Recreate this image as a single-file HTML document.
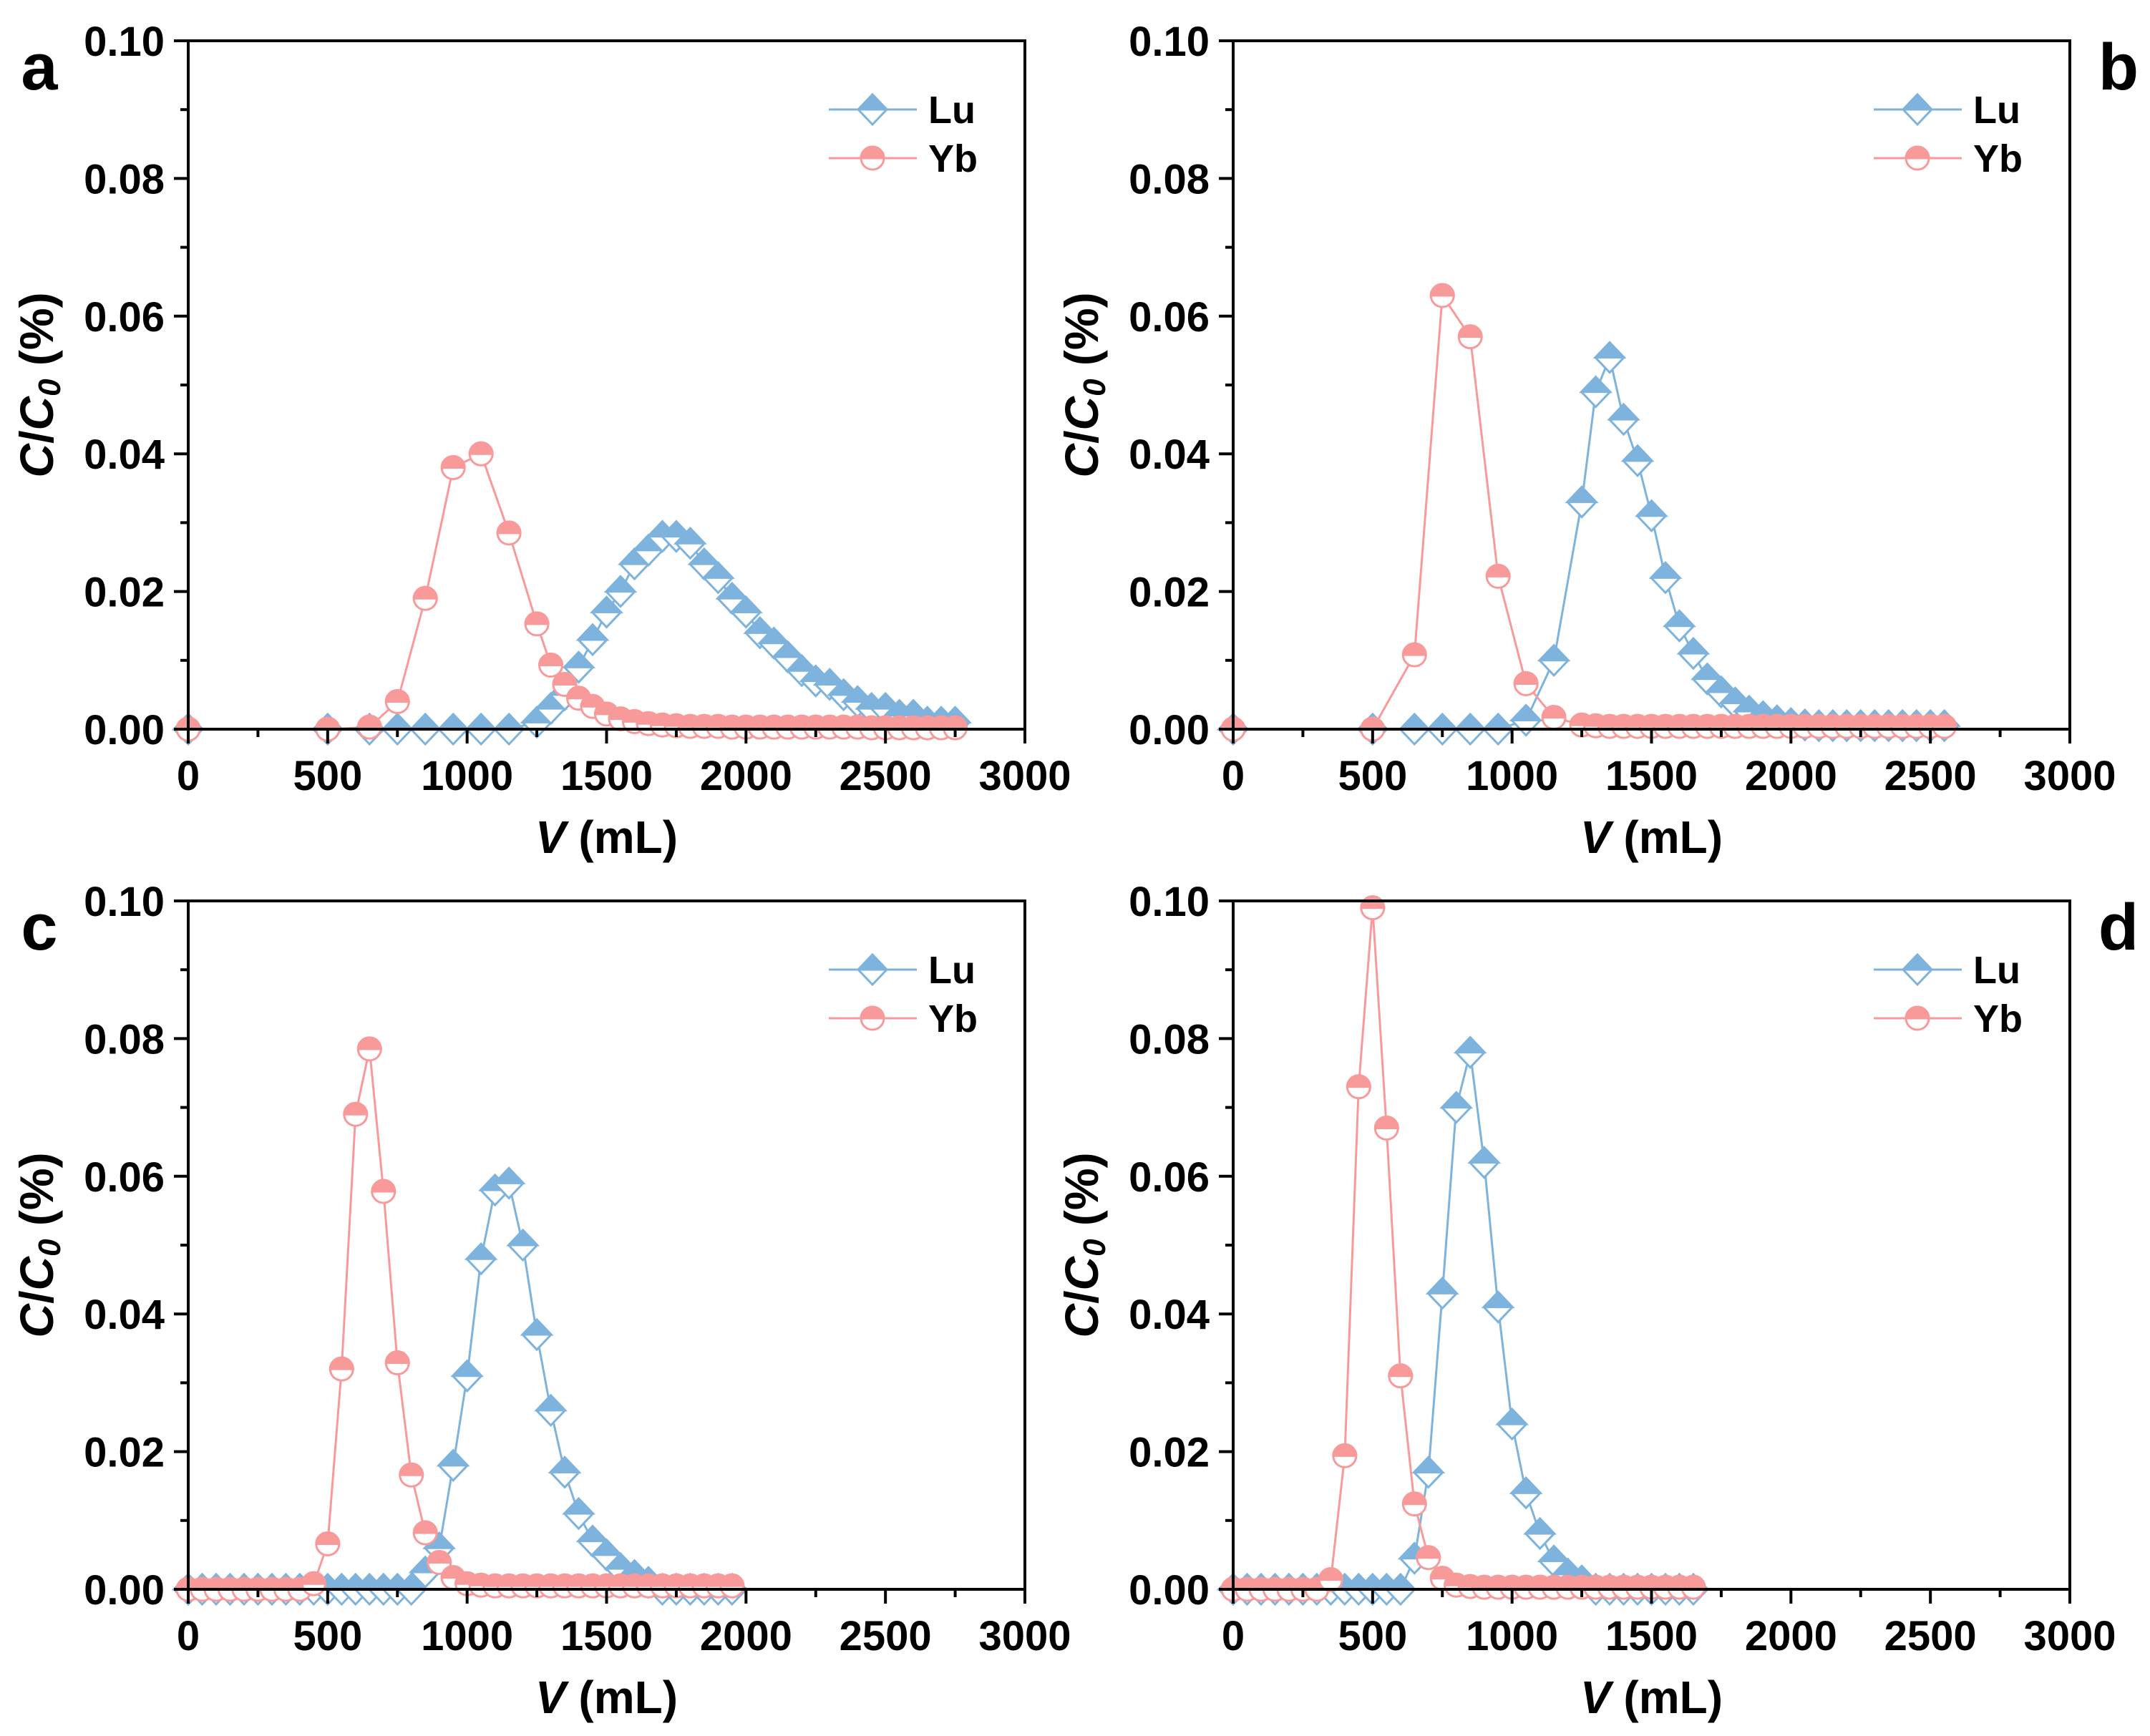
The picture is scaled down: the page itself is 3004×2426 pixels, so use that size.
<!DOCTYPE html>
<html><head><meta charset="utf-8"><style>
html,body{margin:0;padding:0;background:#fff}
svg{display:block}
text{font-family:"Liberation Sans",Arial,sans-serif;font-weight:bold;fill:#000}
</style></head><body>
<svg id="fig" width="3004" height="2426" viewBox="0 0 3004 2426" xmlns="http://www.w3.org/2000/svg"></svg>
<script>
// ---- data ----
const xTicks=[0,500,1000,1500,2000,2500,3000];
const yTicks=[0,0.02,0.04,0.06,0.08,0.10];
const yTickLabels=["0.00","0.02","0.04","0.06","0.08","0.10"];
const panelLetters=["a","b","c","d"];
const seriesNames=["Lu","Yb"];

const aLuV=[0,500,650,750,850,950,1050,1150,1250,1300,1350,1400,1450,1500,1550,1600,1650,1700,1750,1800,1850,1900,1950,2000,2050,2100,2150,2200,2250,2300,2350,2400,2450,2500,2550,2600,2650,2700,2750];
const aLuC=[0,0,0,0,0,0,0,0,0.001,0.003,0.005,0.009,0.013,0.017,0.020,0.024,0.026,0.028,0.028,0.027,0.024,0.022,0.019,0.017,0.014,0.0125,0.0105,0.0085,0.007,0.0065,0.005,0.004,0.003,0.003,0.002,0.002,0.001,0.001,0.001];
const aYbV=aLuV;
const aYbC=[0,0,0.0003,0.004,0.019,0.038,0.040,0.0285,0.0153,0.0093,0.0065,0.0045,0.0033,0.0022,0.0015,0.0011,0.0008,0.0006,0.0005,0.0004,0.0004,0.0004,0.0003,0.0003,0.0003,0.0003,0.0003,0.0003,0.0003,0.0003,0.0003,0.0003,0.0002,0.0002,0.0002,0.0002,0.0002,0.0002,0.0002];

const bLuV=[0,500,650,750,850,950,1050,1150,1250,1300,1350,1400,1450,1500,1550,1600,1650,1700,1750,1800,1850,1900,1950,2000,2050,2100,2150,2200,2250,2300,2350,2400,2450,2500,2550];
const bLuC=[0,0,0,0,0,0,0.0013,0.010,0.033,0.049,0.054,0.045,0.039,0.031,0.022,0.015,0.011,0.0073,0.0054,0.0038,0.0026,0.0018,0.0012,0.0008,0.0006,0.0005,0.0005,0.0005,0.0005,0.0005,0.0005,0.0005,0.0005,0.0005,0.0005];
const bYbV=bLuV;
const bYbC=[0,0,0.0108,0.063,0.057,0.0222,0.0066,0.0017,0.0006,0.0005,0.0004,0.0004,0.0004,0.0004,0.0004,0.0004,0.0004,0.0004,0.0004,0.0004,0.0004,0.0004,0.0004,0.0004,0.0004,0.0004,0.0004,0.0004,0.0004,0.0004,0.0004,0.0004,0.0004,0.0004,0.0004];

const cLuV=[0,50,100,150,200,250,300,350,400,450,500,550,600,650,700,750,800,850,900,950,1000,1050,1100,1150,1200,1250,1300,1350,1400,1450,1500,1550,1600,1650,1700,1750,1800,1850,1900,1950];
const cLuC=[0,0,0,0,0,0,0,0,0,0,0,0,0,0,0,0,0,0.0025,0.006,0.018,0.031,0.048,0.058,0.059,0.050,0.037,0.026,0.017,0.011,0.007,0.005,0.003,0.002,0.001,0,0,0,0,0,0];
const cYbV=cLuV;
const cYbC=[0,0,0,0,0,0,0,0,0,0.0008,0.0066,0.032,0.069,0.0785,0.0578,0.0329,0.0166,0.0082,0.0039,0.0017,0.0008,0.0006,0.0005,0.0005,0.0005,0.0005,0.0005,0.0005,0.0005,0.0005,0.0005,0.0005,0.0005,0.0005,0.0005,0.0005,0.0005,0.0005,0.0005,0.0005];

const dLuV=[0,50,100,150,200,250,300,350,400,450,500,550,600,650,700,750,800,850,900,950,1000,1050,1100,1150,1200,1250,1300,1350,1400,1450,1500,1550,1600,1650];
const dLuC=[0,0,0,0,0,0,0,0,0,0,0,0,0,0.0045,0.017,0.043,0.070,0.078,0.062,0.041,0.024,0.014,0.0081,0.0041,0.0022,0.0012,0,0,0,0,0,0,0,0];
const dYbV=dLuV;
const dYbC=[0,0,0,0,0,0,0,0.0014,0.0194,0.073,0.099,0.067,0.031,0.0124,0.0046,0.0016,0.0006,0.0004,0.0003,0.0003,0.0003,0.0003,0.0003,0.0003,0.0003,0.0003,0.0003,0.0003,0.0003,0.0003,0.0003,0.0003,0.0003,0.0003];

const panelData=[[aLuV,aLuC,aYbV,aYbC],[bLuV,bLuC,bYbV,bYbC],[cLuV,cLuC,cYbV,cYbC],[dLuV,dLuC,dYbV,dYbC]];

// ---- drawing ----
const NS="http://www.w3.org/2000/svg";
const svg=document.getElementById('fig');
const BLUE="#7DB3DC", PINK="#F99A9A";
function mk(tag,attrs,parent){const e=document.createElementNS(NS,tag);for(const k in attrs)e.setAttribute(k,attrs[k]);(parent||svg).appendChild(e);return e;}

const origins=[[263,57],[1723,57],[263,1259],[1723,1259]];
const PW=1169, PH=962;

function diamond(g,cx,cy,name){
  const h=20,v=21;
  const grp=mk('g',{},g);
  
  
  mk('path',{d:`M${cx-h},${cy} L${cx},${cy-v} L${cx+h},${cy} L${cx},${cy+v} Z`,fill:'#fff',stroke:BLUE,'stroke-width':3},grp);
  mk('path',{d:`M${cx-h},${cy} L${cx},${cy-v} L${cx+h},${cy} Z`,fill:BLUE,stroke:BLUE,'stroke-width':3,'stroke-linejoin':'miter'},grp);
}
function circ(g,cx,cy,name){
  const r=16;
  const grp=mk('g',{},g);
  
  
  mk('circle',{cx:cx,cy:cy,r:r,fill:'#fff',stroke:PINK,'stroke-width':3},grp);
  mk('path',{d:`M${cx-r},${cy} A${r},${r} 0 0 1 ${cx+r},${cy} Z`,fill:PINK,stroke:PINK,'stroke-width':3},grp);
}

panelData.forEach((pd,pi)=>{
  const [ox,oy]=origins[pi];
  const xs=v=>ox+v/3000*PW;
  const ys=c=>oy+PH-c/0.10*PH;
  const g=mk('g',{});
  
  

  // series
  const defs=[[pd[0],pd[1],BLUE,diamond,'lu'],[pd[2],pd[3],PINK,circ,'yb']];
  defs.forEach(([V,C,col,fn,nm])=>{
    const pts=V.map((v,i)=>xs(v).toFixed(1)+','+ys(C[i]).toFixed(1)).join(' ');
    const pl=mk('polyline',{points:pts,fill:'none',stroke:col,'stroke-width':3,'stroke-linejoin':'round'},g);
    
    
  });
  defs.forEach(([V,C,col,fn,nm])=>{
    V.forEach((v,i)=>fn(g,xs(v),ys(C[i]),nm+'-point'));
  });

  // frame
  const fr=mk('rect',{x:ox,y:oy,width:PW,height:PH,fill:'none',stroke:'#000','stroke-width':4},g);
  
  

  // x ticks
  for(let v=0;v<=3000;v+=250){
    const major=v%500===0;
    mk('line',{x1:xs(v),y1:oy+PH,x2:xs(v),y2:oy+PH+(major?20:11),stroke:'#000','stroke-width':4},g);
  }
  xTicks.forEach(v=>{
    const t=mk('text',{x:xs(v),y:oy+PH+85,'font-size':58,'text-anchor':'middle'},g);
    t.textContent=String(v);
    
    
  });
  // y ticks
  for(let k=0;k<=10;k++){
    const c=k*0.01;const major=k%2===0;
    mk('line',{x1:ox,y1:ys(c),x2:ox-(major?20:11),y2:ys(c),stroke:'#000','stroke-width':4},g);
  }
  yTicks.forEach((c,i)=>{
    const t=mk('text',{x:ox-33,y:ys(c)+21,'font-size':58,'text-anchor':'end'},g);
    t.textContent=yTickLabels[i];
    
    
  });

  // x title
  const xt=mk('text',{x:ox+PW/2,y:oy+PH+173,'font-size':64,'text-anchor':'middle'},g);
  xt.innerHTML='<tspan font-style="italic">V</tspan> (mL)';
  
  
  // y title
  const yx=ox-189, ycen=oy+PH/2;
  const yt=mk('text',{x:yx,y:ycen,'font-size':66,'text-anchor':'middle',transform:`rotate(-90 ${yx} ${ycen})`},g);
  yt.innerHTML='<tspan font-style="italic">C</tspan>/<tspan font-style="italic">C</tspan><tspan font-style="italic" font-size="44" dy="10">0</tspan><tspan dy="-10"> (%)</tspan>';
  
  

  // legend
  const lx=ox+895;
  [[BLUE,diamond,96,'Lu'],[PINK,circ,164,'Yb']].forEach(([col,fn,dy,lab])=>{
    const lg=mk('g',{},g);
    
    
    mk('line',{x1:lx,y1:oy+dy,x2:lx+123,y2:oy+dy,stroke:col,'stroke-width':3},lg);
    fn(lg,lx+61,oy+dy,'legend-marker');
    const t=mk('text',{x:lx+139,y:oy+dy+19,'font-size':54},lg);
    t.textContent=lab;
  });

  // panel letter
  const right=(pi%2===1);
  const pl=mk('text',{x:right?2960:55,y:oy+68,'font-size':92,'text-anchor':'middle'},g);
  pl.textContent=panelLetters[pi];
  
  
});
</script>
</body></html>
